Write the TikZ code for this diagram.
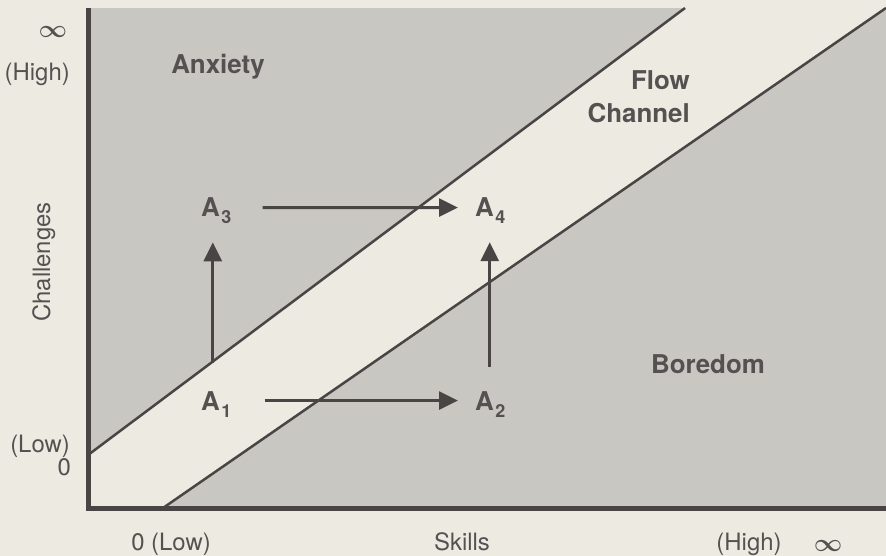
\documentclass[tikz,border=0pt]{standalone}
\usepackage{fontspec}
\setmainfont{TeX Gyre Heros}
\usetikzlibrary{arrows.meta}
\definecolor{bgc}{HTML}{EDEAE2}
\definecolor{greyfill}{HTML}{C8C7C1}
\definecolor{ink}{HTML}{4A4545}
\definecolor{txt}{HTML}{555151}
\newcommand{\subdig}[1]{\hspace{1.5bp}\raisebox{-7bp}{\fontsize{18}{18}\selectfont #1}}
\begin{document}
\begin{tikzpicture}[x=1bp,y=-1bp,
  lbl/.style={text=txt,font=\fontsize{24}{28}\selectfont,inner sep=0},
  big/.style={text=txt,font=\fontsize{26}{30}\selectfont\bfseries,inner sep=0},
  inf/.style={text=txt,font=\fontsize{25}{25}\selectfont\boldmath,inner sep=0},
  arr/.style={draw=ink,line width=3bp,-{Triangle[length=19bp,width=18bp]}},
  diag/.style={draw=ink,line width=2.5bp},
  axis/.style={draw=ink,line width=5bp},
  ]
\fill[bgc] (0,0) rectangle (886,556);
\useasboundingbox (0,0) rectangle (886,556);
% plot area
\fill[greyfill] (88,8) rectangle (886,508);
\fill[bgc] (88,455) -- (685,8) -- (886,8) -- (163,508) -- (88,508) -- cycle;
\draw[diag] (88,455) -- (685,8);
\draw[diag] (163,508) -- (886,8);
\draw[axis] (88,8) -- (88,508) -- (886,508);

% axis labels
\node[inf] (infy) at (53,32) {$\infty$};
\node[lbl,anchor=base east] (hiy) at (70,81) {(High)};
\node[lbl,anchor=base east] (lowy) at (70,452) {(Low)};
\node[lbl,anchor=base east] (zeroy) at (71,475) {0};
\node[lbl,rotate=90,anchor=base] (ch) at (50,262) {Challenges};
\node[lbl,anchor=base] (lowx) at (171,550) {0 (Low)};
\node[lbl,anchor=base] (sk) at (462,550) {Skills};
\node[lbl,anchor=base] (hix) at (749,550) {(High)};
\node[inf] (infx) at (828,546) {$\infty$};

% region labels
\node[big,anchor=base] (anx) at (218,74) {Anxiety};
\node[big,anchor=base east] (flow) at (690,90) {Flow};
\node[big,anchor=base east] (chan) at (690,123) {Channel};
\node[big,anchor=base] (bor) at (708,373) {Boredom};

% states
\node[big,anchor=base west] (A1) at (201,410) {A\subdig{1}};
\node[big,anchor=base west] (A2) at (475,410) {A\subdig{2}};
\node[big,anchor=base west] (A3) at (201,217) {A\subdig{3}};
\node[big,anchor=base west] (A4) at (475,217) {A\subdig{4}};

\draw[arr,shorten <=33bp,shorten >=17bp] ([yshift=3.5bp]A1.east) -- ([yshift=3.5bp]A2.west);
\draw[arr,shorten <=31bp,shorten >=17bp] ([yshift=3.5bp]A3.east) -- ([yshift=3.5bp]A4.west);
\draw[arr,shorten <=28bp,shorten >=18bp] ([xshift=-3.5bp]A1.north) -- ([xshift=-3.5bp]A3.south);
\draw[arr,shorten <=24bp,shorten >=18bp] ([xshift=-0.5bp]A2.north) -- ([xshift=-0.5bp]A4.south);
\end{tikzpicture}
\end{document}
